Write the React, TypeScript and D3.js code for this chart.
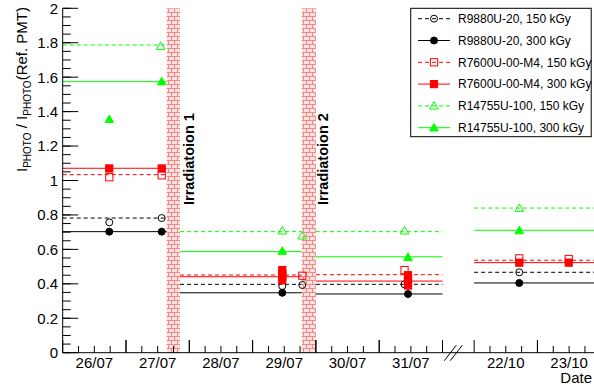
import React from 'react';
import * as d3 from 'd3';

const WIDTH = 594;
const HEIGHT = 387;

// x is in "day units": 26/07 starts at 0, axis is broken between 31/07 and 22/10
const dayLabels = ['26/07', '27/07', '28/07', '29/07', '30/07', '31/07', '22/10', '23/10'];
const dayStarts = [0, 1, 2, 3, 4, 5, 6.5, 7.5];
const bands = [
  [1.643, 1.853],
  [3.776, 4.0],
];
const bandLabels = ['Irradiatoion 1', 'Irradiatoion 2'];
const segments = [
  [0, 1.643],
  [1.853, 3.776],
  [4.0, 6.0],
  [6.5, 9.5],
];

const seriesNames = [
  'R9880U-20, 150 kGy',
  'R9880U-20, 300 kGy',
  'R7600U-00-M4, 150 kGy',
  'R7600U-00-M4, 300 kGy',
  'R14755U-100, 150 kGy',
  'R14755U-100, 300 kGy',
];
const seriesColors = ['#000000', '#000000', '#ff0000', '#ff0000', '#00ff00', '#00ff00'];
const seriesMarkers = ['circle', 'circle', 'square', 'square', 'triangle', 'triangle'];
const seriesFilled = [false, true, false, true, false, true];

// reference level per period (before irr. 1, after irr. 1, after irr. 2, October)
const levels = [
  [0.782, 0.397, 0.397, 0.467],
  [0.703, 0.348, 0.341, 0.405],
  [1.034, 0.451, 0.453, 0.537],
  [1.071, 0.441, 0.416, 0.523],
  [1.787, 0.703, 0.703, 0.84],
  [1.574, 0.587, 0.557, 0.711],
];

// measurements: [time in day units, ratio]
const points = [
  [[0.736, 0.757], [1.564, 0.782], [3.469, 0.387], [3.785, 0.393], [5.4, 0.397], [7.213, 0.467]],
  [[0.736, 0.703], [1.564, 0.703], [3.469, 0.348], [5.455, 0.341], [7.213, 0.405]],
  [[0.736, 1.019], [1.564, 1.03], [3.785, 0.447], [5.4, 0.48], [7.213, 0.548], [7.994, 0.544]],
  [
    [0.736, 1.07], [1.564, 1.07],
    [3.469, 0.48], [3.469, 0.46], [3.469, 0.44], [3.469, 0.42],
    [5.455, 0.45], [5.455, 0.43], [5.455, 0.41], [5.455, 0.39],
    [7.213, 0.523], [7.994, 0.523],
  ],
  [[1.548, 1.78], [3.469, 0.708], [3.785, 0.679], [5.4, 0.708], [7.213, 0.839]],
  [[0.736, 1.355], [1.564, 1.574], [3.469, 0.59], [5.455, 0.554], [7.213, 0.709]],
];

const FONT = "'Liberation Sans', Arial, Helvetica, sans-serif";

const Marker = ({ type, filled, color, cx, cy }: any) => {
  const fill = filled ? color : 'none';
  if (type === 'circle')
    return <circle cx={cx} cy={cy} r={3.5} fill={fill} stroke={color} strokeWidth={1} />;
  if (type === 'square')
    return <rect x={cx - 3.6} y={cy - 3.6} width={7.2} height={7.2} fill={fill} stroke={color} strokeWidth={1} />;
  return (
    <polygon
      points={`${cx},${cy - 4.3} ${cx - 4.3},${cy + 3.2} ${cx + 4.3},${cy + 3.2}`}
      fill={fill}
      stroke={color}
      strokeWidth={1}
    />
  );
};

const App = () => {
  const x = d3.scaleLinear().domain([0, 9]).range([62.7, 632.4]);
  const y = d3.scaleLinear().domain([0, 2]).range([352.7, 8.3]);
  const y0 = y(0);
  const fmt = d3.format('~g');

  const yMajor = d3.range(0, 2.0001, 0.2);
  const yMinor = d3.range(0, 2.0001, 0.05);

  const xMajor: number[] = [];
  const xMinor: number[] = [];
  dayStarts.forEach((s) => {
    xMajor.push(s, s + 1);
    xMinor.push(s + 0.25, s + 0.5, s + 0.75);
  });

  const breakX = x(6.25) - 5;

  return (
    <svg
      width={WIDTH}
      height={HEIGHT}
      style={{ position: 'absolute', left: 0, top: 0, background: '#fff' }}
      fontFamily={FONT}
    >
      <defs>
        <pattern id="brick" width={6} height={8} patternUnits="userSpaceOnUse">
          <rect width={6} height={8} fill="#fde2e2" />
          <line x1={0} x2={6} y1={0.5} y2={0.5} stroke="#f08888" strokeWidth={1} />
          <line x1={0} x2={6} y1={4.5} y2={4.5} stroke="#f08888" strokeWidth={1} />
          <line x1={0.5} x2={0.5} y1={0} y2={4} stroke="#f08888" strokeWidth={1} />
          <line x1={3.5} x2={3.5} y1={4} y2={8} stroke="#f08888" strokeWidth={1} />
        </pattern>
      </defs>

      {/* irradiation bands */}
      {bands.map((b, i) => (
        <rect
          key={i}
          x={x(b[0])}
          y={y(2)}
          width={x(b[1]) - x(b[0])}
          height={y0 - y(2)}
          fill="url(#brick)"
        />
      ))}
      {bands.map((b, i) => (
        <text
          key={i}
          transform={`translate(${x(b[1]) + (i === 0 ? 14 : 12)}, 205) rotate(-90)`}
          fontSize={14.5}
          fontWeight="bold"
          fill="#000"
        >
          {bandLabels[i]}
        </text>
      ))}

      {/* level lines */}
      {levels.map((lv, si) =>
        lv.map((v, k) => (
          <line
            key={`${si}-${k}`}
            x1={x(segments[k][0])}
            x2={x(segments[k][1])}
            y1={y(v)}
            y2={y(v)}
            stroke={seriesColors[si]}
            strokeWidth={1}
            strokeDasharray={seriesFilled[si] ? undefined : '4,3'}
          />
        ))
      )}

      {/* measurements */}
      {points.map((pts, si) =>
        pts.map((p, k) => (
          <Marker
            key={`${si}-${k}`}
            type={seriesMarkers[si]}
            filled={seriesFilled[si]}
            color={seriesColors[si]}
            cx={x(p[0])}
            cy={y(p[1])}
          />
        ))
      )}

      {/* y axis */}
      <line x1={x(0)} x2={x(0)} y1={y(2)} y2={y0} stroke="#000" />
      {yMinor.map((t, i) => (
        <line key={i} x1={x(0)} x2={x(0) + 8} y1={y(t)} y2={y(t)} stroke="#000" />
      ))}
      {yMajor.map((t, i) => (
        <g key={i}>
          <line x1={x(0)} x2={x(0) + 15.5} y1={y(t)} y2={y(t)} stroke="#000" />
          <text x={x(0) - 4.5} y={y(t)} dy="0.36em" textAnchor="end" fontSize={15}>
            {fmt(t)}
          </text>
        </g>
      ))}
      <text transform="translate(27, 7) rotate(-90)" textAnchor="end" fontSize={15}>
        <tspan>I</tspan>
        <tspan fontSize={10} dy={4}>PHOTO</tspan>
        <tspan dy={-4}> / I</tspan>
        <tspan fontSize={10} dy={4}>PHOTO</tspan>
        <tspan dy={-4}>(Ref. PMT)</tspan>
      </text>

      {/* x axis */}
      <line x1={x(0)} x2={WIDTH} y1={y0} y2={y0} stroke="#000" />
      {xMinor.map((t, i) => (
        <line key={i} x1={x(t)} x2={x(t)} y1={y0} y2={y0 - 6.7} stroke="#000" />
      ))}
      {xMajor.map((t, i) => (
        <line key={i} x1={x(t)} x2={x(t)} y1={y0} y2={y0 - 12.7} stroke="#000" />
      ))}
      {dayLabels.map((d, i) => (
        <text key={d} x={x(dayStarts[i] + 0.5)} y={y0 + 15} textAnchor="middle" fontSize={15}>
          {d}
        </text>
      ))}
      <line x1={breakX - 9} x2={breakX + 3} y1={y0 + 8} y2={y0 - 7.5} stroke="#000" />
      <line x1={breakX - 3} x2={breakX + 9} y1={y0 + 8} y2={y0 - 7.5} stroke="#000" />
      <text x={WIDTH - 2} y={383} textAnchor="end" fontSize={15}>
        Date
      </text>

      {/* legend */}
      <g>
        <rect x={410.7} y={8.3} width={180.5} height={128.4} fill="#fff" stroke="#000" />
        {seriesNames.map((n, i) => {
          const ly = 18.7 + i * 21.8;
          return (
            <g key={n}>
              <line
                x1={418}
                x2={450}
                y1={ly}
                y2={ly}
                stroke={seriesColors[i]}
                strokeDasharray={seriesFilled[i] ? undefined : '4,3'}
              />
              <Marker
                type={seriesMarkers[i]}
                filled={seriesFilled[i]}
                color={seriesColors[i]}
                cx={434}
                cy={ly}
              />
              <text x={458} y={ly} dy="0.36em" fontSize={12}>
                {n}
              </text>
            </g>
          );
        })}
      </g>
    </svg>
  );
};

export default App;
